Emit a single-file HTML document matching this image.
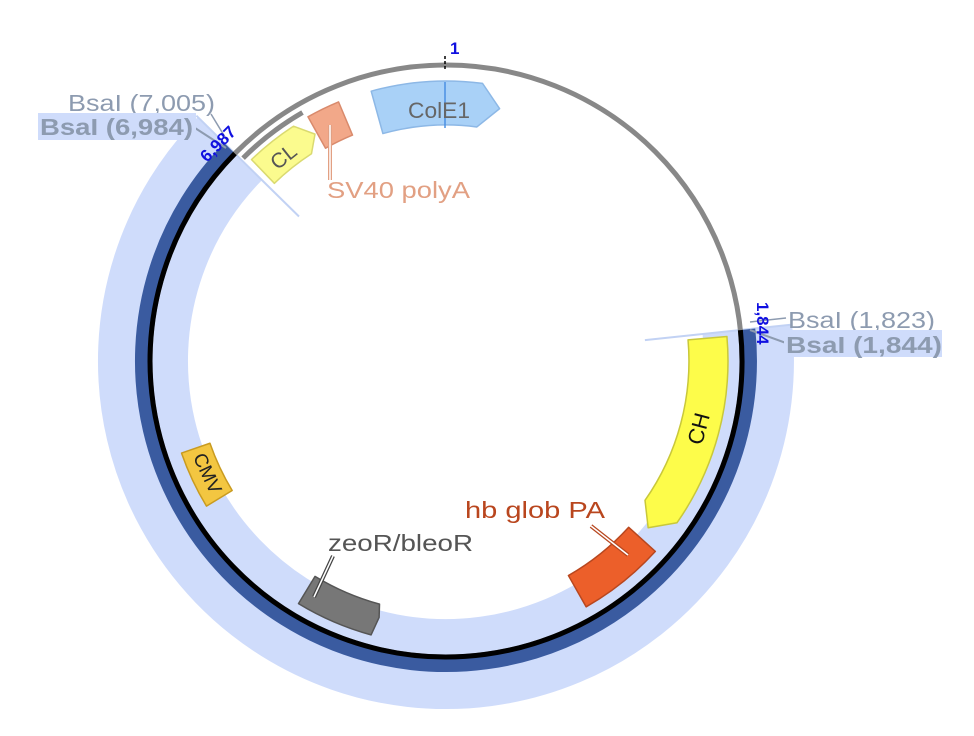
<!DOCTYPE html>
<html><head><meta charset="utf-8"><style>
html,body{margin:0;padding:0;background:#fff;}
svg{display:block;font-family:"Liberation Sans","DejaVu Sans",sans-serif;}
</style></head><body>
<svg width="974" height="736" viewBox="0 0 974 736" xmlns="http://www.w3.org/2000/svg">
<g transform="translate(446 361)">
  <path d="M301.3,-31.7 A303 303 0 1 1 -216.1,-212.4" fill="none" stroke="#cfdcfb" stroke-width="90"/>
  <line x1="198.9" y1="-20.9" x2="346" y2="-36.4" stroke="#c2d2f4" stroke-width="2"/>
  <line x1="-147" y1="-144.5" x2="-249.6" y2="-245.3" stroke="#c2d2f4" stroke-width="2"/>
  <circle cx="0" cy="0" r="296" fill="none" stroke="#888" stroke-width="5"/>
  <path d="M302.8,-31.8 A304.5 304.5 0 1 1 -217.2,-213.4" fill="none" stroke="#3a5ba0" stroke-width="13"/>
  <path d="M294.4,-30.9 A296 296 0 1 1 -211.1,-207.5" fill="none" stroke="#000" stroke-width="5"/>
  <path d="M-202.9,-202.9 A287 287 0 0 1 -143.5,-248.5" fill="none" stroke="#888" stroke-width="5"/>
  <line x1="-1" y1="-305" x2="-1" y2="-291" stroke="#000" stroke-width="1.5" stroke-dasharray="3,2"/>

  <g transform="rotate(-4)">
    <path d="M-55.8,-274.4 A280 280 0 0 1 55.8,-274.4 L71.1,-248 L47.1,-231.3 A236 236 0 0 0 -47.1,-231.3 Z" fill="#a9d1f7" stroke="#8db8e6" stroke-width="1.5" stroke-linejoin="round"/>
  </g>
  <line x1="-1" y1="-279" x2="-1" y2="-233" stroke="#4a90e2" stroke-width="1.5"/>
  <text x="-7" y="-243" font-size="22" fill="#666" text-anchor="middle" textLength="62" lengthAdjust="spacingAndGlyphs">ColE1</text>

  <g transform="rotate(321.5)">
    <path d="M-26.8,-278.7 A280 280 0 0 1 26.8,-278.7 L38.7,-259.1 L23.7,-245.9 A247 247 0 0 0 -23.7,-245.9 Z" fill="#fbfb8e" stroke="#dada70" stroke-width="1.5" stroke-linejoin="round"/>
    <text x="0" y="-254" font-size="21" fill="#555" text-anchor="middle">CL</text>
  </g>

  <g transform="rotate(334)">
    <path d="M-17,-280 A280 280 0 0 1 17,-280 L15,-244 A244 244 0 0 0 -15,-244 Z" fill="#f2a889" stroke="#d98a6c" stroke-width="1.5" stroke-linejoin="round"/>
  </g>

  <g transform="rotate(105)">
    <path d="M-96.4,-265 A282 282 0 0 1 96.4,-265 L108.7,-238.4 L83.1,-228.3 A243 243 0 0 0 -83.1,-228.3 Z" fill="#fdfc4a" stroke="#c9c83a" stroke-width="1.5" stroke-linejoin="round"/>
    <text x="0" y="-255" font-size="22" fill="#111" text-anchor="middle" transform="rotate(180 0 -262)">CH</text>
  </g>

  <g transform="rotate(141.3)">
    <path d="M-44.3,-279.5 A283 283 0 0 1 44.3,-279.5 L38.6,-244 A247 247 0 0 0 -38.6,-244 Z" fill="#ec5f2a" stroke="#b8471f" stroke-width="1.5" stroke-linejoin="round"/>
  </g>

  <g transform="rotate(203.3)">
    <path d="M-39.5,-281.2 A284 284 0 0 1 39.5,-281.2 L35.1,-249.6 A252 252 0 0 0 -35.1,-249.6 L-40,-262 Z" fill="#777" stroke="#555" stroke-width="1.5" stroke-linejoin="round"/>
  </g>

  <g transform="rotate(244.8)">
    <path d="M-29.3,-278.5 A280 280 0 0 1 29.3,-278.5 L26.1,-248.6 A250 250 0 0 0 -26.1,-248.6 Z" fill="#f3c641" stroke="#c99b20" stroke-width="1.5" stroke-linejoin="round"/>
    <text x="0" y="-256" font-size="19" fill="#222" text-anchor="middle" transform="rotate(180 0 -263)">CMV</text>
  </g>
</g>

<line x1="330" y1="125" x2="330" y2="180" stroke="#e2a083" stroke-width="4"/>
<line x1="330" y1="125" x2="330" y2="180" stroke="#fff" stroke-width="1.5"/>
<line x1="591" y1="526" x2="628" y2="555" stroke="#b8471f" stroke-width="4"/>
<line x1="591" y1="526" x2="628" y2="555" stroke="#fff" stroke-width="1.5"/>
<line x1="333" y1="556" x2="314" y2="597" stroke="#444" stroke-width="4"/>
<line x1="333" y1="556" x2="314" y2="597" stroke="#fff" stroke-width="1.5"/>

<text x="450" y="54" font-size="17" font-weight="bold" fill="#1010e0">1</text>
<text x="327" y="198" font-size="23" fill="#e2a083" textLength="143" lengthAdjust="spacingAndGlyphs">SV40 polyA</text>
<text x="465" y="518" font-size="23" fill="#b9461e" textLength="140" lengthAdjust="spacingAndGlyphs">hb glob PA</text>
<text x="328" y="551" font-size="23" fill="#555" textLength="145" lengthAdjust="spacingAndGlyphs">zeoR/bleoR</text>

<line x1="211" y1="114" x2="228" y2="142" stroke="#8d9bb0" stroke-width="1.5"/>
<line x1="195" y1="128" x2="226" y2="148" stroke="#8d9bb0" stroke-width="2"/>
<text x="68" y="111" font-size="23" fill="#8d9bb0" textLength="147" lengthAdjust="spacingAndGlyphs">BsaI (7,005)</text>
<rect x="38" y="113" width="158" height="27" fill="#cfdcfb"/>
<text x="40" y="135" font-size="23" font-weight="bold" fill="#8d9bb0" textLength="153" lengthAdjust="spacingAndGlyphs">BsaI (6,984)</text>
<text x="0" y="0" font-size="17" font-weight="bold" fill="#1010e0" transform="translate(207 163) rotate(-45)">6,987</text>

<line x1="750" y1="322" x2="786" y2="318" stroke="#8d9bb0" stroke-width="1.5"/>
<line x1="750" y1="330" x2="786" y2="343" stroke="#8d9bb0" stroke-width="2"/>
<text x="788" y="328" font-size="23" fill="#8d9bb0" textLength="147" lengthAdjust="spacingAndGlyphs">BsaI (1,823)</text>
<rect x="784" y="330" width="158" height="27" fill="#cfdcfb"/>
<text x="786" y="353" font-size="23" font-weight="bold" fill="#8d9bb0" textLength="156" lengthAdjust="spacingAndGlyphs">BsaI (1,844)</text>
<text x="0" y="0" font-size="17" font-weight="bold" fill="#1010e0" transform="translate(757 302) rotate(90)">1,844</text>
</svg>
</body></html>
